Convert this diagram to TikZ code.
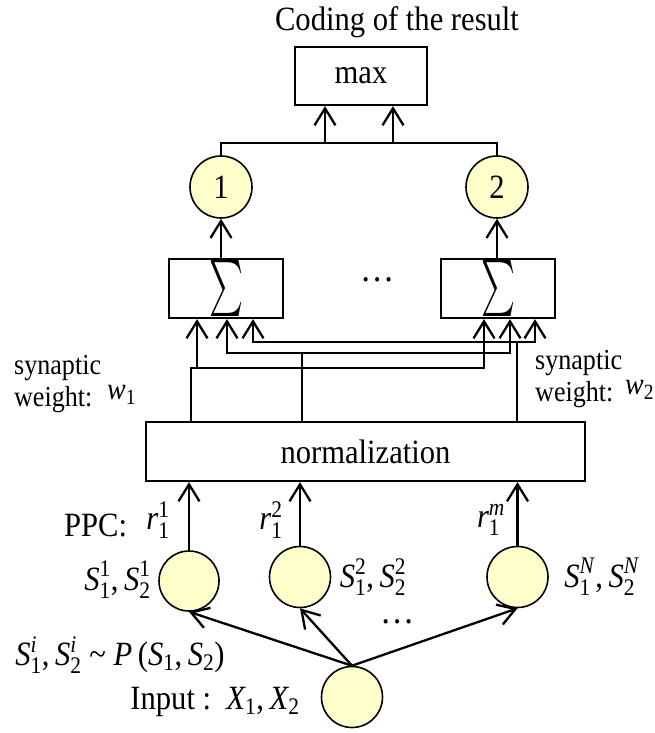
\RequirePackage{fix-cm}
\documentclass[tikz,border=0pt]{standalone}
\usepackage{amsmath}
\usepackage{graphicx}
\usepackage{fontspec}
\setmainfont{Liberation Serif}[FakeStretch=0.9]
\usetikzlibrary{arrows.meta}
\definecolor{cellfill}{RGB}{255,255,204}
\newcommand{\Sv}[2]{\textit{S}_{\text{#1}}^{\text{#2}}}
\newcommand{\rv}[1]{\textit{r}_{\text{1}}^{\text{#1}}}
\newcommand{\cm}{\text{,}\,}
\begin{document}
\begin{tikzpicture}[x=1pt,y=-1pt,
  line width=2.3pt,
  arr/.style={-{Straight Barb[length=17pt,width=21pt]}},
  both/.style={{Straight Barb[length=17pt,width=21pt]}-{Straight Barb[length=17pt,width=21pt]}},
  box/.style={draw, line width=2.3pt, inner sep=0pt},
  neuron/.style={circle, draw, line width=1.6pt, fill=cellfill, minimum size=62pt, inner sep=0pt},
  lab/.style={inner sep=0pt, font=\fontsize{34}{38}\selectfont},
  small/.style={inner sep=0pt, font=\fontsize{29}{32}\selectfont, anchor=west},
  wlab/.style={inner sep=0pt, font=\fontsize{31}{34}\selectfont, anchor=west},
  dotlab/.style={inner sep=0pt, font=\fontsize{38}{40}\selectfont}]
\useasboundingbox (0,0) rectangle (655,733);

% top
\node[lab] (title) at (397,22) {Coding of the result};
\node[box, lab, minimum width=132pt, minimum height=58pt] (max) at (361,76) {max};
\node[neuron, lab] (c1) at (221,187) {1};
\node[neuron, lab] (c2) at (497,187) {2};
\node[box, minimum width=114pt, minimum height=59pt] (s1) at (226,288.5) {\resizebox{34pt}{42pt}{$\sum$}};
\node[box, minimum width=114pt, minimum height=59pt] (s2) at (498,288.5) {\resizebox{34pt}{42pt}{$\sum$}};
\node[dotlab] (dots1) at (378,280) {\dots};
\node[box, lab, minimum width=439pt, minimum height=59pt] (norm) at (365.5,451.5) {normalization};

% bottom neurons
\node[neuron, minimum size=60pt] (p1) at (189,581) {};
\node[neuron, minimum size=61pt] (p2) at (300,577) {};
\node[neuron, minimum size=61pt] (pN) at (517.5,577) {};
\node[neuron, minimum size=61pt] (in) at (352,697) {};

% labels
\node[lab, anchor=west] (ppc) at (63,525) {PPC:};
\node[lab] (r1) at (158,520) {$\rv{1}$};
\node[lab] (r2) at (271,520) {$\rv{2}$};
\node[lab] (rm) at (491,520) {$\rv{\textit{m}}$};
\node[lab] (l1) at (117.5,580) {$\Sv{1}{1}\cm\Sv{2}{1}$};
\node[lab] (l2) at (373,577) {$\Sv{1}{2}\cm\Sv{2}{2}$};
\node[lab] (lN) at (602,577) {$\Sv{1}{\textit{N}}\cm\Sv{2}{\textit{N}}$};
\node[lab] (dist) at (120,655) {$\Sv{1}{\textit{i}}\cm\Sv{2}{\textit{i}}$ \textasciitilde{} \textit{P}\,($\textit{S}_{\text{1}}\cm\textit{S}_{\text{2}}$)};
\node[lab] (input) at (215,702) {Input :\ \ $\textit{X}_{\text{1}}\cm\textit{X}_{\text{2}}$};
\node[dotlab] (dots2) at (398,622) {\dots};
\node[small] (syn1) at (13,368) {synaptic};
\node[small] (wt1) at (13,400) {weight:};
\node[wlab] (w1) at (106,395) {$\textit{w}_{\text{1}}$};
\node[small] (syn2) at (534,363) {synaptic};
\node[small] (wt2) at (534,395) {weight:};
\node[wlab] (w2) at (624,390) {$\textit{w}_{\text{2}}$};

% top connectors
\coordinate (m1) at (325,143);
\coordinate (m2) at (393,143);
\draw (c1.north) -- (c1.north |- m1) -- (c2.north |- m1) -- (c2.north);
\draw[arr] (m1) -- (m1 |- max.south);
\draw[arr] (m2) -- (m2 |- max.south);
\draw[arr] (c1.south |- s1.north) -- (c1.south);
\draw[arr] (c2.south |- s2.north) -- (c2.south);

% bus
\coordinate (aL) at (191,368);
\coordinate (aA) at (197,368);
\coordinate (aR) at (484,368);
\coordinate (bL) at (227,353);
\coordinate (bM) at (302,353);
\coordinate (bR) at (510,353);
\coordinate (cL) at (253,342);
\coordinate (cM) at (517,342);
\coordinate (cR) at (535,342);
\draw (aL |- norm.north) -- (aL) -- (aA);
\draw[both] (aA |- s1.south) -- (aA) -- (aR) -- (aR |- s2.south);
\draw (bM |- norm.north) -- (bM);
\draw[both] (bL |- s1.south) -- (bL) -- (bR) -- (bR |- s2.south);
\draw (cM |- norm.north) -- (cM);
\draw[both] (cL |- s1.south) -- (cL) -- (cR) -- (cR |- s2.south);

% bottom connectors
\draw[arr] (p1.north) -- (p1.north |- norm.south);
\draw[arr] (p2.north) -- (p2.north |- norm.south);
\draw[arr] (pN.north) -- (pN.north |- norm.south);
\draw[arr] (in.north) -- (p1.south);
\draw[arr] (in.north) -- (p2.south);
\draw[arr] (in.north) -- (pN.south);
\end{tikzpicture}
\end{document}
